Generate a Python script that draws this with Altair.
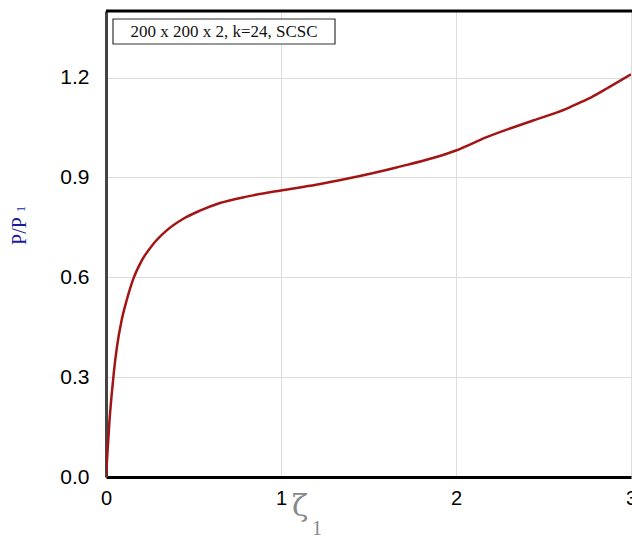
import altair as alt
import pandas as pd

zeta = [0, 0.008, 0.02, 0.032, 0.045, 0.061, 0.089, 0.115, 0.137, 0.156, 0.204, 0.27,
        0.347, 0.442, 0.537, 0.651, 0.81, 1.0, 1.2, 1.375, 1.66, 2.0, 2.175, 2.44,
        2.63, 2.73, 2.77, 2.88, 3.0]
ratio = [0, 0.07, 0.17, 0.245, 0.315, 0.385, 0.47, 0.525, 0.565, 0.595, 0.65, 0.70,
         0.741, 0.776, 0.80, 0.823, 0.843, 0.861, 0.878, 0.896, 0.93, 0.981, 1.021, 1.071,
         1.106, 1.13, 1.14, 1.173, 1.21]
x_ticks = [0, 1, 2, 3]
y_ticks = [0.0, 0.3, 0.6, 0.9, 1.2]
label_text = "200 x 200 x 2, k=24, SCSC"

df = pd.DataFrame({"zeta": zeta, "ratio": ratio})

W, H = 525, 466

xs = alt.Scale(domain=[0, 3], nice=False, zero=False)
ys = alt.Scale(domain=[0, 1.4], nice=False)

line = alt.Chart(df).mark_line(color="#a31515", strokeWidth=2.5, interpolate="monotone", clip=True).encode(
    x=alt.X("zeta:Q", scale=xs, axis=alt.Axis(
        values=x_ticks, format="d", title=None, grid=True, gridColor="#dddddd",
        domainColor="#000000", domainWidth=3, ticks=False, labelFont="Liberation Sans",
        labelFontSize=20, labelColor="#000000", labelPadding=11, labelFlush=False)),
    y=alt.Y("ratio:Q", scale=ys, axis=alt.Axis(
        values=y_ticks, format=".1f", title=None, grid=True, gridColor="#dddddd",
        domainColor="#444444", domainWidth=3, ticks=False, labelFont="Liberation Sans",
        labelFontSize=21, labelColor="#000000", labelPadding=17)),
)

top = alt.Chart(pd.DataFrame({"t": [0]})).mark_rule(color="#000000", strokeWidth=3).encode(
    x=alt.value(0), x2=alt.value(W + 2), y=alt.value(0))

box = alt.Chart(pd.DataFrame({"t": [label_text]})).mark_rect(
    fill="white", stroke="#333333", strokeWidth=1.2).encode(
    x=alt.value(7), x2=alt.value(229), y=alt.value(8), y2=alt.value(33))

box_text = alt.Chart(pd.DataFrame({"t": [label_text]})).mark_text(
    font="Liberation Serif", fontSize=17, color="#111111", align="center", baseline="middle").encode(
    x=alt.value(118), y=alt.value(21), text="t:N")

xt1 = alt.Chart(pd.DataFrame({"t": ["ζ"]})).mark_text(
    font="DejaVu Serif", fontSize=30, color="#888888", align="center", baseline="middle").encode(
    x=alt.value(194), y=alt.value(30 + H), text="t:N")
xt2 = alt.Chart(pd.DataFrame({"t": ["1"]})).mark_text(
    font="Liberation Serif", fontSize=20, color="#888888", align="center", baseline="middle").encode(
    x=alt.value(211), y=alt.value(52 + H), text="t:N")

yt1 = alt.Chart(pd.DataFrame({"t": ["P/P"]})).mark_text(
    font="Liberation Serif", fontSize=20, color="#1a1a9c", align="center", baseline="middle", angle=270).encode(
    x=alt.value(-86), y=alt.value(220), text="t:N")
yt2 = alt.Chart(pd.DataFrame({"t": ["1"]})).mark_text(
    font="Liberation Serif", fontSize=12, color="#1a1a9c", align="center", baseline="middle", angle=270).encode(
    x=alt.value(-85), y=alt.value(198), text="t:N")

chart = alt.layer(line, top, box, box_text, xt1, xt2, yt1, yt2).properties(
    width=W, height=H,
    autosize=alt.AutoSizeParams(type="none"),
    padding={"left": 106, "top": 11, "right": 1, "bottom": 61},
).configure_view(stroke="#000000", strokeWidth=3).configure(background="white")

chart.save("out.html", embed_options={"renderer": "svg", "actions": False})
